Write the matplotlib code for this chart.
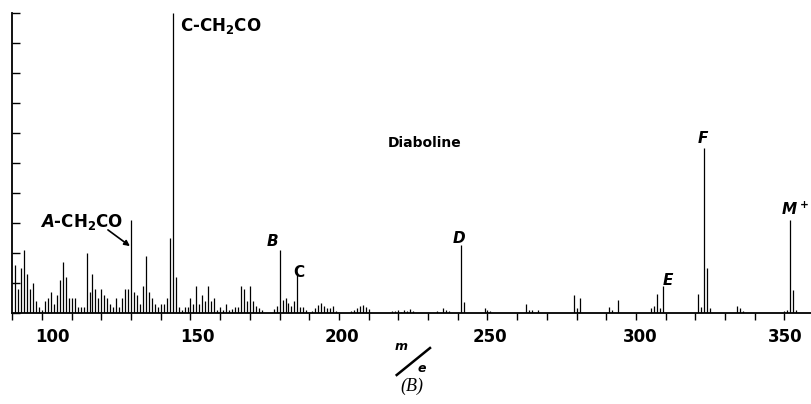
"""Mass spectrum of diaboline, panel (B): relative abundance against m/e."""

import matplotlib

matplotlib.use("Agg")  # headless
import matplotlib.pyplot as plt  # noqa: E402
from matplotlib.lines import Line2D  # noqa: E402
from matplotlib.transforms import ScaledTranslation  # noqa: E402
from matplotlib.ticker import MultipleLocator, NullFormatter  # noqa: E402

# Dense low-mass region: one line per unit mass, m/e 91-174 (% of base peak)
low_mz = list(range(91, 175))
low_int = [
    16, 8, 15, 21, 13, 8, 10, 4, 2, 1,          # 91-100
    4, 5, 7, 3, 6, 11, 17, 12, 5, 5,            # 101-110
    5, 2, 2, 2, 20, 7, 13, 8, 5, 8,             # 111-120
    6, 5, 3, 2, 5, 2, 5, 8, 8, 31,              # 121-130
    7, 6, 3, 9, 19, 7, 5, 3, 2, 3,              # 131-140
    3, 5, 25, 100, 12, 2, 1, 2, 2, 5,           # 141-150
    3, 9, 3, 6, 4, 9, 4, 5, 1, 2,               # 151-160
    1, 3, 1, 1.5, 2, 2, 9, 8, 4, 9,             # 161-170
    4, 2.4, 1.7, 1,                             # 171-174
]

# Sparse region above m/e 175
high_mz = [
    178, 179, 180, 181, 182, 183, 184, 185, 186, 187, 188, 189,
    191, 192, 193, 194, 195, 196, 197, 198, 199,
    204, 205, 206, 207, 208, 209, 210,
    218, 219, 220, 221, 222, 223, 224, 225,
    233, 235, 236, 237, 241, 242, 249, 250, 251,
    263, 264, 265, 267, 279, 280, 281, 291, 292, 294,
    305, 306, 307, 308, 309, 321, 322, 323, 324, 325,
    334, 335, 336, 350, 351, 352, 353, 354,
]
high_int = [
    1.3, 2.4, 21, 4.4, 5, 3.6, 2.5, 4, 12.8, 2, 2, 1,
    0.9, 1.7, 2.8, 3.6, 2.4, 1.7, 1.7, 2.4, 0.9,
    0.9, 1.1, 1.9, 2.4, 2.8, 2, 1.3,
    0.9, 0.8, 1.1, 0.6, 1.1, 0.8, 1.6, 0.8,
    0.8, 1.9, 1.1, 0.8, 22.8, 3.9, 1.7, 1.1, 0.8,
    3.1, 1.1, 1.1, 1.1, 6.1, 1.7, 5, 2.2, 1, 4.3,
    1.7, 2.5, 6.4, 1.7, 9.2, 6.3, 2.2, 55, 15, 1.7,
    2.6, 1.7, 0.9, 0.9, 1.1, 31.2, 7.8, 1.1,
]

# Fragment labels and the peak each one names
peak_names = ["A-CH$_2$CO", "C-CH$_2$CO", "B", "C", "D", "E", "F", "M+"]
peak_mz = [130, 144, 180, 186, 241, 309, 323, 352]

COMPOUND = "Diaboline"
X_LABELS = [100, 150, 200, 250, 300, 350]

W, H = 811, 404

# hand lettering is fairly heavy: bold for plain and math text alike
plt.rcParams["font.weight"] = "bold"
plt.rcParams["mathtext.fontset"] = "custom"
plt.rcParams["mathtext.rm"] = "DejaVu Sans:bold"
plt.rcParams["mathtext.bf"] = "DejaVu Sans:bold"
plt.rcParams["mathtext.it"] = "DejaVu Sans:bold:italic"


def fx(px):
    return px / W


def fy(py):
    return 1 - py / H


fig = plt.figure(figsize=(W / 100, H / 100), dpi=100)
ax = fig.add_axes([fx(12.3), fy(313.3), 798.9 / W, 300 / H])

ax.vlines(low_mz, 0, low_int, color="black", lw=0.9)
ax.vlines(high_mz, 0, high_int, color="black", lw=0.9)

ax.set_xlim(90, 359)
ax.set_ylim(0, 100)
for side in ("top", "right"):
    ax.spines[side].set_visible(False)
ax.spines["left"].set_linewidth(1.3)
ax.spines["bottom"].set_linewidth(1.3)

ax.set_xticks(X_LABELS)
ax.xaxis.set_minor_locator(MultipleLocator(10))
ax.xaxis.set_minor_formatter(NullFormatter())
ax.tick_params(axis="x", which="both", direction="out", length=4.8, width=1.0, pad=5.5,
               labelsize=12)
ax.yaxis.set_major_locator(MultipleLocator(10))
ax.tick_params(axis="y", direction="in", length=5.5, width=1.0, labelleft=False)

# the hand-lettered numbers sit a little right of their ticks
nudge_px = [10, 7, 3, 2, 4, 0.5]
for lab, dx in zip(ax.get_xticklabels(), nudge_px):
    lab.set_transform(lab.get_transform() + ScaledTranslation(dx / 100, 0, fig.dpi_scale_trans))

# peak labels; positions tuned by eye against the original plate
label_pos = {
    "A-CH$_2$CO": (99.3, 28.8, "left"),
    "C-CH$_2$CO": (146.5, 94.1, "left"),
    "B": (177.5, 22.4, "center"),
    "C": (186.5, 12.1, "center"),
    "D": (240.4, 23.4, "center"),
    "E": (310.8, 9.4, "center"),
    "F": (322.6, 56.8, "center"),
    "M+": (353.6, 32.8, "center"),
}
for name, mz in zip(peak_names, peak_mz):
    x, y, ha = label_pos[name]
    if name == "A-CH$_2$CO":
        txt = "$A$-CH$_2$CO"
    elif name == "M+":
        txt = "$M^+$"
    elif name in ("B", "D", "E", "F"):
        txt = f"${name}$"
    else:
        txt = name
    ax.text(x, y, txt, ha=ha, va="baseline", fontsize=12 if "CO" in name else 11)

# arrow from the A-CH2CO label down to its line
a_mz = peak_mz[0]
ax.annotate("", xy=(a_mz - 0.4, 22.4), xytext=(122.2, 27.8),
            arrowprops=dict(arrowstyle="-|>", color="black", lw=1.2,
                            mutation_scale=8, shrinkA=0, shrinkB=0))

ax.text(216.5, 55.4, COMPOUND, ha="left", va="baseline", fontsize=10)

# hand-drawn style m/e fraction and panel tag
fig.text(fx(401), fy(346), "m", fontsize=9, style="italic", ha="center", va="center")
fig.text(fx(422), fy(368), "e", fontsize=9, style="italic", ha="center", va="center")
fig.add_artist(Line2D([fx(396.7), fx(430)], [fy(375), fy(348)], color="black", lw=1.8,
                      transform=fig.transFigure))
fig.text(fx(412), fy(386), "(B)", family="Liberation Serif", style="italic",
         fontweight="normal", fontsize=13, ha="center", va="center")

fig.savefig("out.png", dpi=100)
plt.close(fig)
